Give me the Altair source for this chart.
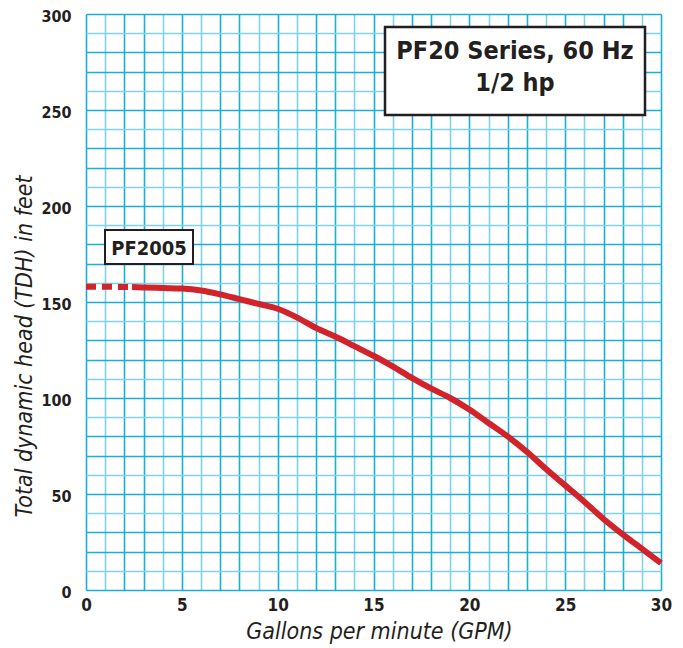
import altair as alt
import pandas as pd

# Data
dash_gpm = [0, 2.25]
dash_head = [158, 157.8]

solid_gpm = [2.4, 3, 4, 5, 6, 7, 8, 9, 10, 11, 12, 13, 14, 15, 16, 17, 18, 19,
             20, 21, 22, 23, 24, 25, 26, 27, 28, 29, 30]
solid_head = [157.8, 157.6, 157.3, 157, 156, 154, 151.5, 149, 146.5, 142, 136.5,
              132, 127, 122, 116.5, 110.5, 105, 100, 94, 87, 80, 72, 63, 54.5,
              46, 37, 29, 21.5, 14]

x_ticks = list(range(0, 31))
y_ticks = list(range(0, 301, 10))

title_lines = ["PF20 Series, 60 Hz", "1/2 hp"]
model_label = "PF2005"

FONT = "Liberation Sans Narrow, DejaVu Sans Condensed, sans-serif"
RED = "#d2232a"
INK = "#231f20"
DARK_GRID = "#1aaed9"
LIGHT_GRID = "#80d2ea"

dash_df = pd.DataFrame({"gpm": dash_gpm, "head": dash_head, "seg": "dash"})
solid_df = pd.DataFrame({"gpm": solid_gpm, "head": solid_head, "seg": "solid"})

x_axis = alt.Axis(
    values=x_ticks,
    labelExpr="datum.value % 5 == 0 ? datum.label : ''",
    grid=True,
    gridColor={"condition": {"test": "datum.value % 5 == 1 || datum.value % 5 == 4",
                             "value": LIGHT_GRID}, "value": DARK_GRID},
    gridWidth=1.6,
    ticks=False,
    domain=False,
    labelFlush=False,
    labelOverlap=False,
    labelPadding=7,
    labelFont=FONT,
    labelFontSize=17,
    labelFontWeight="bold",
    labelColor=INK,
    title="Gallons per minute (GPM)",
    titleFont=FONT,
    titleFontSize=23,
    titleFontStyle="italic",
    titleFontWeight="normal",
    titleColor=INK,
    titleX=293,
    titleY=48,
    titleBaseline="alphabetic",
)
y_axis = alt.Axis(
    values=y_ticks,
    labelExpr="datum.value % 50 == 0 ? datum.label : ''",
    grid=True,
    gridColor={"condition": {"test": "(datum.value / 10) % 5 == 1 || (datum.value / 10) % 5 == 4",
                             "value": LIGHT_GRID}, "value": DARK_GRID},
    gridWidth=1.6,
    ticks=False,
    domain=False,
    labelFlush=False,
    labelOverlap=False,
    labelPadding=15,
    labelFont=FONT,
    labelFontSize=16,
    labelFontWeight="bold",
    labelColor=INK,
    labelOffset=2,
    title="Total dynamic head (TDH) in feet",
    titleFont=FONT,
    titleFontSize=23,
    titleFontStyle="italic",
    titleFontWeight="normal",
    titleColor=INK,
    titleAngle=-90,
    titleX=-62,
    titleY=332,
    titleAlign="center",
    titleBaseline="middle",
)

x_enc = alt.X("gpm:Q", scale=alt.Scale(domain=[0, 30], nice=False, zero=False), axis=x_axis)
y_enc = alt.Y("head:Q", scale=alt.Scale(domain=[0, 300], nice=False, zero=False), axis=y_axis)

dashed = alt.Chart(dash_df).mark_line(
    color=RED, strokeWidth=6, strokeDash=[10, 6], strokeCap="butt"
).encode(x=x_enc, y=y_enc)

solid = alt.Chart(solid_df).mark_line(
    color=RED, strokeWidth=6, interpolate="monotone", strokeCap="butt"
).encode(x=x_enc, y=y_enc)

one = alt.Data(values=[{"k": 1}])

box1 = alt.Chart(one).mark_rect(fill="white", stroke=INK, strokeWidth=2.5).encode(
    x=alt.value(299), x2=alt.value(559), y=alt.value(13), y2=alt.value(101)
)
t1 = alt.Chart(one).mark_text(
    text=title_lines[0], font=FONT, fontSize=25, fontWeight="bold", color=INK,
    align="center", baseline="alphabetic"
).encode(x=alt.value(429), y=alt.value(45))
t2 = alt.Chart(one).mark_text(
    text=title_lines[1], font=FONT, fontSize=25, fontWeight="bold", color=INK,
    align="center", baseline="alphabetic"
).encode(x=alt.value(429), y=alt.value(77))

box2 = alt.Chart(one).mark_rect(fill="white", stroke=INK, strokeWidth=2).encode(
    x=alt.value(19), x2=alt.value(107), y=alt.value(216), y2=alt.value(250)
)
t3 = alt.Chart(one).mark_text(
    text=model_label, font=FONT, fontSize=20, fontWeight="bold", color=INK,
    align="center", baseline="alphabetic"
).encode(x=alt.value(63), y=alt.value(241))

chart = alt.layer(dashed, solid, box1, t1, t2, box2, t3).properties(
    width=575, height=576,
    autosize=alt.AutoSizeParams(type="none"),
    padding={"left": 78, "top": 6, "right": 12, "bottom": 56},
).configure_view(
    stroke=INK, strokeWidth=3
).configure(background="white")

chart.save("out.html", embed_options={"renderer": "svg", "actions": False})
